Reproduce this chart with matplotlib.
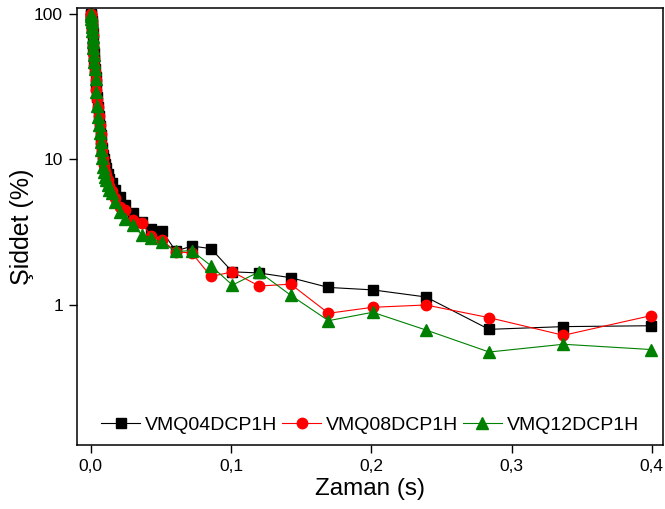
import matplotlib
matplotlib.use("Agg")
import matplotlib.pyplot as plt
from matplotlib.ticker import FixedLocator, FuncFormatter, NullLocator

plt.rcParams['font.family'] = ['Liberation Sans', 'DejaVu Sans']

# time (s), shared by all three samples
zaman = [0.0, 0.0002, 0.0004, 0.0006, 0.0008, 0.0010, 0.0013, 0.0016, 0.0019, 0.0022,
         0.0026, 0.0030, 0.0035, 0.0040, 0.0046, 0.0052, 0.0058, 0.0064, 0.0070, 0.0076,
         0.0082, 0.0088, 0.0095, 0.0102, 0.0110, 0.0120, 0.0133, 0.0148, 0.0171, 0.0207,
         0.0243, 0.0298, 0.0362, 0.0430, 0.0506, 0.0606, 0.0722, 0.0857, 0.101, 0.120,
         0.1426, 0.1695, 0.201, 0.239, 0.284, 0.337, 0.3995]

vmq04 = [100, 98, 94, 90, 85, 80, 74, 66, 60, 54,
         48, 42, 37, 32, 27, 23, 20, 17, 14.8, 13,
         12, 10.8, 10, 9.3, 8.7, 8.0, 7.4, 6.9, 6.2, 5.5,
         4.9, 4.3, 3.7, 3.33, 3.25, 2.35, 2.54, 2.44, 1.69, 1.66,
         1.54, 1.32, 1.27, 1.135, 0.68, 0.71, 0.72]

vmq08 = [100, 98, 94, 89, 84, 78, 72, 60, 54, 49,
         44, 40, 35, 30, 26, 23, 20, 17.3, 15, 13,
         11.5, 10.2, 9.2, 8.4, 7.8, 7.2, 6.6, 6.1, 5.4, 4.7,
         4.5, 3.84, 3.65, 3.0, 2.8, 2.33, 2.27, 1.57, 1.69, 1.35,
         1.39, 0.877, 0.964, 1.0, 0.818, 0.619, 0.845]

vmq12 = [100, 97, 93, 88, 82, 76, 70, 64, 58, 52,
         47, 42, 36, 29, 23.5, 19.6, 17.3, 15.2, 13.2, 11.6,
         10.2, 8.9, 8.2, 7.6, 7.2, 6.7, 6.2, 5.85, 5.1, 4.38,
         3.9, 3.55, 3.05, 2.88, 2.7, 2.34, 2.36, 1.86, 1.37, 1.69,
         1.166, 0.78, 0.891, 0.673, 0.475, 0.537, 0.494]

fig = plt.figure(figsize=(6.65, 5.09), dpi=100)
ax = fig.add_axes([0.1158, 0.1257, 0.8812, 0.8586])

ax.plot(zaman, vmq04, color='black', lw=0.8, marker='s', ms=7, label='VMQ04DCP1H')
ax.plot(zaman, vmq08, color='#ff0000', lw=0.8, marker='o', ms=7.5, label='VMQ08DCP1H')
ax.plot(zaman, vmq12, color='#008000', lw=0.8, marker='^', ms=8.5, label='VMQ12DCP1H')

ax.set_yscale('log')
ax.set_ylim(0.109, 110)
ax.set_xlim(-0.0098, 0.408)

ax.yaxis.set_major_locator(FixedLocator([1, 10, 100]))
ax.yaxis.set_minor_locator(NullLocator())
ax.yaxis.set_major_formatter(FuncFormatter(lambda v, p: '%d' % v))
ax.xaxis.set_major_locator(FixedLocator([0.0, 0.1, 0.2, 0.3, 0.4]))
ax.xaxis.set_major_formatter(FuncFormatter(lambda v, p: ('%.1f' % v).replace('.', ',')))

ax.tick_params(axis='both', direction='out', length=6, width=1, labelsize=12.5, pad=4)
for s in ax.spines.values():
    s.set_linewidth(1.1)

ax.set_xlabel('Zaman (s)', fontsize=17.5, labelpad=3)
ax.set_ylabel('Şiddet (%)', fontsize=18, labelpad=0)

ax.legend(loc='center', bbox_to_anchor=(0.5, 0.045), ncol=3, frameon=False,
          fontsize=14, handlelength=2.0, handletextpad=0.25, columnspacing=0.25,
          borderpad=0.2)

fig.savefig('out.png', dpi=100)
